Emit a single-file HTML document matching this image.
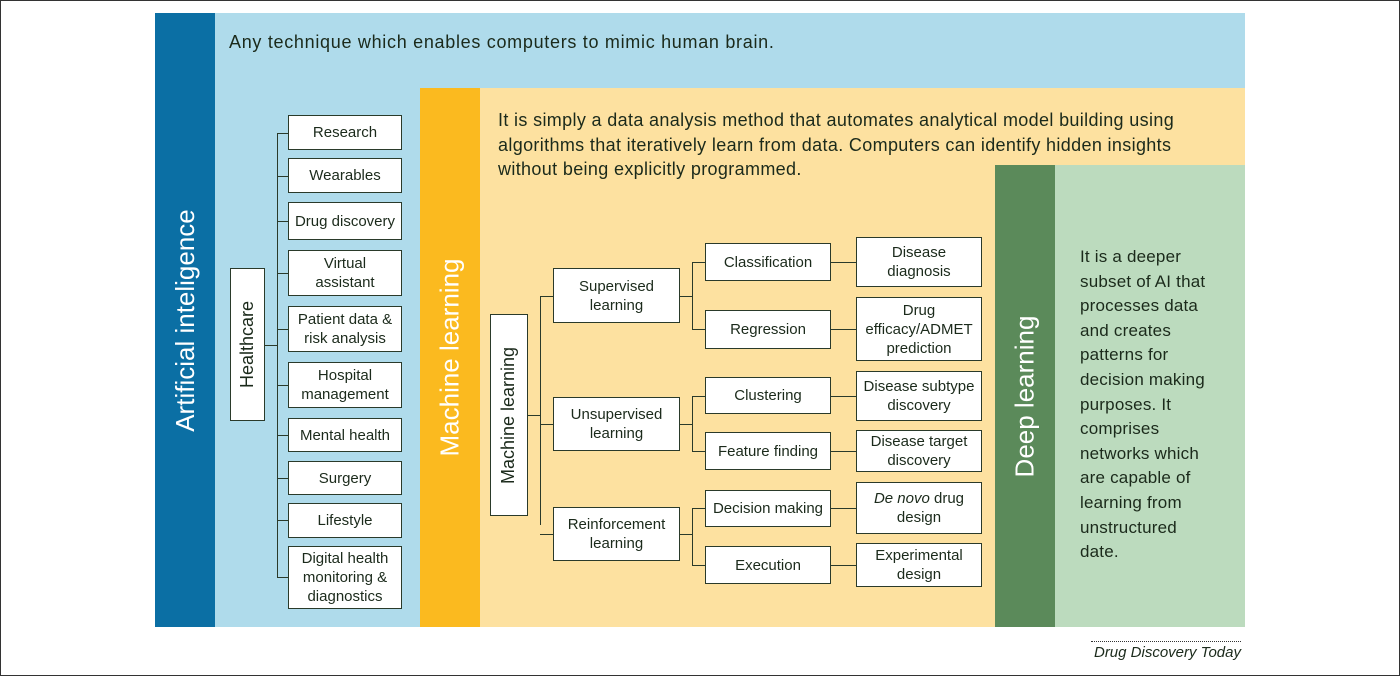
<!DOCTYPE html>
<html><head><meta charset="utf-8"><style>
*{margin:0;padding:0;box-sizing:border-box}
body{width:1400px;height:676px;background:#fff;position:relative;overflow:hidden;font-family:"Liberation Sans",Arial,sans-serif;color:#1b2a1b}
#frame{position:absolute;left:0;top:0;width:1400px;height:676px;border:1px solid #333}
.a{position:absolute}
.b{position:absolute;background:#fff;border:1px solid #2a3a2a;display:flex;align-items:center;justify-content:center;text-align:center;font-size:15px;line-height:19px}
.v{position:absolute;display:flex;align-items:center;justify-content:center}
.v span{transform:rotate(-90deg);white-space:nowrap}
.h{position:absolute;background:#2a3a2a;height:1px}
.l{position:absolute;background:#2a3a2a;width:1px}
</style></head><body>
<div id="frame"></div>
<div class="a" style="left:155px;top:13px;width:1090px;height:614px;background:#afdbeb"></div>
<div class="v" style="left:155px;top:13px;width:60px;height:614px;background:#0b6fa4;color:#fff;font-size:26px"><span>Artificial inteligence</span></div>
<div class="a" style="left:229px;top:32px;font-size:18px;letter-spacing:0.7px;white-space:nowrap">Any technique which enables computers to mimic human brain.</div>
<div class="a" style="left:420px;top:88px;width:825px;height:539px;background:#fde1a0"></div>
<div class="v" style="left:420px;top:88px;width:60px;height:539px;background:#fbba1f;color:#fff;font-size:26px"><span>Machine learning</span></div>
<div class="a" style="left:498px;top:108px;font-size:18px;letter-spacing:0.35px;line-height:24.5px;white-space:nowrap">It is simply a data analysis method that automates analytical model building using<br>algorithms that iteratively learn from data. Computers can identify hidden insights<br>without being explicitly programmed.</div>
<div class="a" style="left:995px;top:165px;width:250px;height:462px;background:#bcdbbe"></div>
<div class="v" style="left:995px;top:165px;width:60px;height:462px;background:#5b8a5a;color:#fff;font-size:26px"><span>Deep learning</span></div>
<div class="a" style="left:1080px;top:245px;font-size:17px;line-height:24.6px;letter-spacing:0.2px;white-space:nowrap">It is a deeper<br>subset of AI that<br>processes data<br>and creates<br>patterns for<br>decision making<br>purposes. It<br>comprises<br>networks which<br>are capable of<br>learning from<br>unstructured<br>date.</div>

<div class="b v" style="left:230px;top:268px;width:35px;height:153px;font-size:18px"><span>Healthcare</span></div>
<div class="h" style="left:265px;top:345px;width:12px"></div>
<div class="l" style="left:277px;top:133px;height:445px"></div>
<div class="h" style="left:277px;top:133px;width:11px"></div>
<div class="h" style="left:277px;top:176px;width:11px"></div>
<div class="h" style="left:277px;top:221px;width:11px"></div>
<div class="h" style="left:277px;top:273px;width:11px"></div>
<div class="h" style="left:277px;top:329px;width:11px"></div>
<div class="h" style="left:277px;top:385px;width:11px"></div>
<div class="h" style="left:277px;top:435px;width:11px"></div>
<div class="h" style="left:277px;top:478px;width:11px"></div>
<div class="h" style="left:277px;top:520px;width:11px"></div>
<div class="h" style="left:277px;top:577px;width:11px"></div>
<div class="b" style="left:288px;top:115px;width:114px;height:35px">Research</div>
<div class="b" style="left:288px;top:158px;width:114px;height:35px">Wearables</div>
<div class="b" style="left:288px;top:202px;width:114px;height:38px">Drug discovery</div>
<div class="b" style="left:288px;top:250px;width:114px;height:46px">Virtual<br>assistant</div>
<div class="b" style="left:288px;top:306px;width:114px;height:46px">Patient data &amp;<br>risk analysis</div>
<div class="b" style="left:288px;top:362px;width:114px;height:46px">Hospital<br>management</div>
<div class="b" style="left:288px;top:418px;width:114px;height:34px">Mental health</div>
<div class="b" style="left:288px;top:461px;width:114px;height:34px">Surgery</div>
<div class="b" style="left:288px;top:503px;width:114px;height:35px">Lifestyle</div>
<div class="b" style="left:288px;top:546px;width:114px;height:63px">Digital health<br>monitoring &amp;<br>diagnostics</div>

<div class="b v" style="left:490px;top:314px;width:38px;height:202px;font-size:18px"><span>Machine learning</span></div>
<div class="h" style="left:528px;top:415px;width:12px"></div>
<div class="l" style="left:540px;top:296px;height:229px"></div>
<div class="h" style="left:540px;top:296px;width:13px"></div>
<div class="h" style="left:540px;top:424px;width:13px"></div>
<div class="h" style="left:540px;top:534px;width:13px"></div>
<div class="b" style="left:553px;top:268px;width:127px;height:55px">Supervised<br>learning</div>
<div class="b" style="left:553px;top:397px;width:127px;height:54px">Unsupervised<br>learning</div>
<div class="b" style="left:553px;top:507px;width:127px;height:54px">Reinforcement<br>learning</div>
<div class="h" style="left:680px;top:296px;width:12px"></div>
<div class="h" style="left:680px;top:424px;width:12px"></div>
<div class="h" style="left:680px;top:534px;width:12px"></div>
<div class="l" style="left:692px;top:262px;height:68px"></div>
<div class="l" style="left:692px;top:396px;height:56px"></div>
<div class="l" style="left:692px;top:508px;height:57px"></div>
<div class="h" style="left:692px;top:262px;width:13px"></div>
<div class="h" style="left:692px;top:329px;width:13px"></div>
<div class="h" style="left:692px;top:396px;width:13px"></div>
<div class="h" style="left:692px;top:451px;width:13px"></div>
<div class="h" style="left:692px;top:508px;width:13px"></div>
<div class="h" style="left:692px;top:565px;width:13px"></div>
<div class="b" style="left:705px;top:243px;width:126px;height:38px">Classification</div>
<div class="b" style="left:705px;top:310px;width:126px;height:39px">Regression</div>
<div class="b" style="left:705px;top:377px;width:126px;height:37px">Clustering</div>
<div class="b" style="left:705px;top:432px;width:126px;height:38px">Feature finding</div>
<div class="b" style="left:705px;top:490px;width:126px;height:37px">Decision making</div>
<div class="b" style="left:705px;top:546px;width:126px;height:38px">Execution</div>
<div class="h" style="left:831px;top:262px;width:25px"></div>
<div class="h" style="left:831px;top:329px;width:25px"></div>
<div class="h" style="left:831px;top:396px;width:25px"></div>
<div class="h" style="left:831px;top:451px;width:25px"></div>
<div class="h" style="left:831px;top:508px;width:25px"></div>
<div class="h" style="left:831px;top:565px;width:25px"></div>
<div class="b" style="left:856px;top:237px;width:126px;height:50px">Disease<br>diagnosis</div>
<div class="b" style="left:856px;top:297px;width:126px;height:64px">Drug<br>efficacy/ADMET<br>prediction</div>
<div class="b" style="left:856px;top:371px;width:126px;height:50px">Disease subtype<br>discovery</div>
<div class="b" style="left:856px;top:430px;width:126px;height:42px">Disease target<br>discovery</div>
<div class="b" style="left:856px;top:482px;width:126px;height:52px"><span><i>De novo</i> drug<br>design</span></div>
<div class="b" style="left:856px;top:543px;width:126px;height:44px">Experimental<br>design</div>

<div class="a" style="left:1091px;top:641px;width:150px;border-top:1px dotted #333"></div>
<div class="a" style="right:159px;top:644px;font-size:15px;font-style:italic">Drug Discovery Today</div>
</body></html>
